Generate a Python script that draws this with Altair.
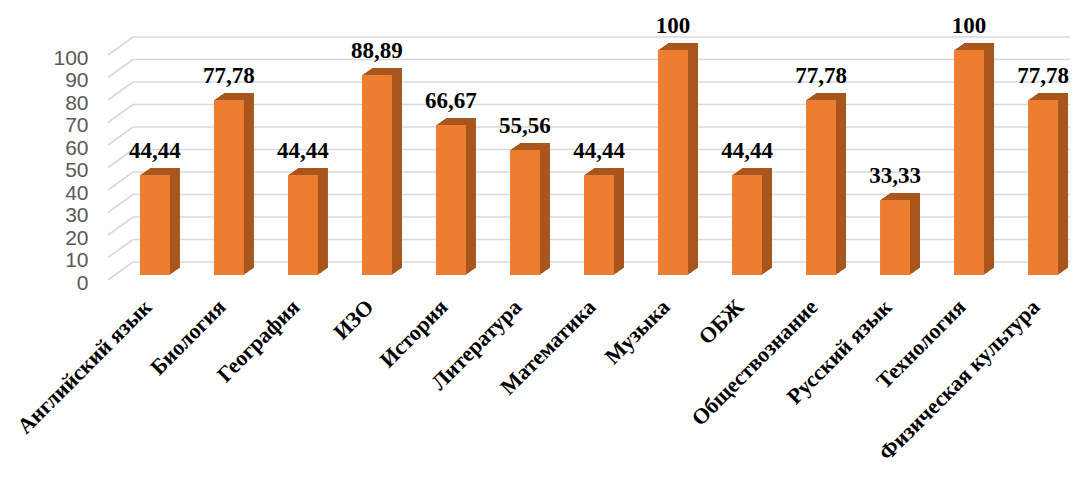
import altair as alt
import pandas as pd

subjects = ["Английский язык", "Биология", "География", "ИЗО", "История",
            "Литература", "Математика", "Музыка", "ОБЖ", "Обществознание",
            "Русский язык", "Технология", "Физическая культура"]
values = [44.44, 77.78, 44.44, 88.89, 66.67, 55.56, 44.44, 100, 44.44, 77.78,
          33.33, 100, 77.78]
ticks = [0, 10, 20, 30, 40, 50, 60, 70, 80, 90, 100]


def fmt(v):
    return str(int(v)) if float(v).is_integer() else f"{v:.2f}".replace(".", ",")


labels = [fmt(v) for v in values]

df = pd.DataFrame({"subject": subjects, "value": values, "label": labels})
grid_df = pd.DataFrame({"v": ticks})

PLOT_W = 962
PLOT_H = 225
PX = PLOT_H / 100.0
FRONT = "#ED7D31"
SIDE = "#A9561E"
GRID = "#D9D9D9"

xscale = alt.Scale(range=[0, 982], paddingInner=0.595, paddingOuter=0.432)
yscale = alt.Scale(domain=[0, 100], nice=False)

xaxis = alt.Axis(title=None, labelAngle=-45, labelAlign="right",
                 labelBaseline="middle", labelFont="Liberation Serif",
                 labelFontWeight="bold", labelFontSize=22,
                 labelColor="black", ticks=False, domain=False,
                 labelPadding=28, labelOffset=-7, grid=False, labelLimit=400)
yaxis = alt.Axis(title=None, values=ticks, labelFont="Liberation Sans",
                 labelFontSize=21, labelColor="#595959", ticks=False,
                 domain=False, grid=False, labelPadding=20, labelOffset=8)

X = alt.X("subject:N", sort=subjects, scale=xscale, axis=xaxis)

# back-wall gridlines
grid_back = alt.Chart(grid_df).mark_rule(color=GRID, strokeWidth=1.6, yOffset=-13).encode(
    x=alt.value(25), x2=alt.value(982),
    y=alt.Y("v:Q", scale=yscale, axis=yaxis),
)
grid_diag = alt.Chart(grid_df).transform_calculate(
    yf=f"datum.v - 5/{PX}", yb=f"datum.v + 13/{PX}"
).mark_rule(color=GRID, strokeWidth=1.6).encode(
    x=alt.value(0), x2=alt.value(25),
    y=alt.Y("yf:Q", scale=yscale, axis=yaxis),
    y2="yb:Q",
)

layers = [grid_back, grid_diag]

# 3D depth (side + top faces)
for k in range(1, 11):
    layers.append(
        alt.Chart(df).mark_bar(color=SIDE, xOffset=k, yOffset=-0.7 * k, y2Offset=-0.7 * k).encode(
            x=X,
            y=alt.Y("value:Q", scale=yscale, axis=yaxis),
        )
    )

front = alt.Chart(df).mark_bar(color=FRONT).encode(
    x=X,
    y=alt.Y("value:Q", scale=yscale, axis=yaxis),
)
layers.append(front)

text = alt.Chart(df).mark_text(font="Liberation Serif", fontWeight="bold",
                               fontSize=23, color="black", dy=-17,
                               baseline="alphabetic", align="center").encode(
    x=X,
    y=alt.Y("value:Q", scale=yscale, axis=yaxis),
    text="label:N",
)
layers.append(text)

chart = alt.layer(*layers).properties(
    width=PLOT_W, height=PLOT_H,
    autosize=alt.AutoSizeParams(type="none"),
    padding={"left": 100, "top": 42, "right": 0, "bottom": 195},
).configure_view(stroke=None)

chart.save("out.html", embed_options={"renderer": "svg", "actions": False})
